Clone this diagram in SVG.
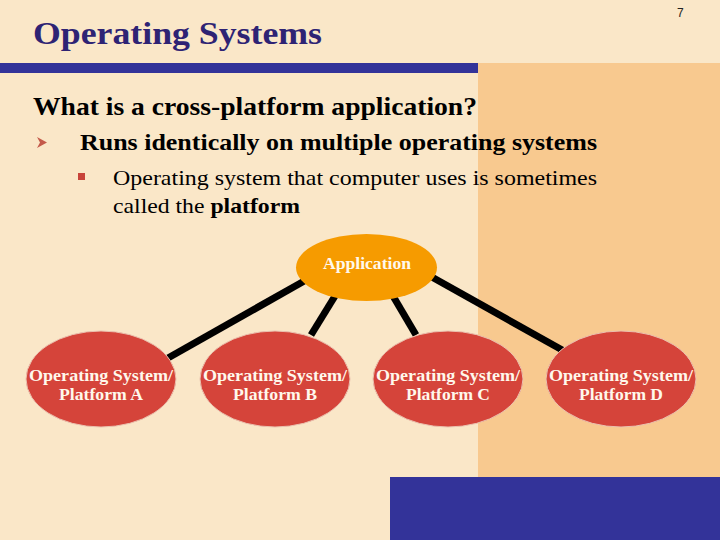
<svg xmlns="http://www.w3.org/2000/svg" width="720" height="540" viewBox="0 0 720 540">
<style>
.serif{font-family:"Liberation Serif","Times New Roman",serif}
.os ellipse{fill:#D5443A;stroke:#EBC2B0;stroke-width:1}
.lbl{font-family:"Liberation Serif","Times New Roman",serif;font-weight:bold;font-size:17px;fill:#FFF8EC;text-anchor:middle}
.conn line{stroke:#000;stroke-width:7;stroke-linecap:butt}
</style>
<rect x="0" y="0" width="720" height="540" fill="#FAE7C8"/>
<rect x="478" y="63" width="242" height="414" fill="#F8C98F"/>
<rect x="0" y="63" width="478" height="10" fill="#333399"/>
<rect x="390" y="477" width="330" height="63" fill="#333399"/>
<text x="33" y="44" class="serif" font-size="32" font-weight="bold" fill="#2E2374" textLength="289" lengthAdjust="spacingAndGlyphs">Operating Systems</text>
<text x="677" y="17" font-family="Liberation Sans, Arial, sans-serif" font-size="12" fill="#222">7</text>
<text x="33" y="115" class="serif" font-size="26" font-weight="bold" fill="#000" textLength="444" lengthAdjust="spacingAndGlyphs">What is a cross-platform application?</text>
<polygon points="37,137 47,142.5 37,148 40,142.5" fill="#C45A4A"/>
<text x="80" y="150" class="serif" font-size="23" font-weight="bold" fill="#000" textLength="517" lengthAdjust="spacingAndGlyphs">Runs identically on multiple operating systems</text>
<rect x="78" y="173" width="7" height="7" fill="#C8443A"/>
<text x="113" y="185" class="serif" font-size="22" fill="#000" textLength="484" lengthAdjust="spacingAndGlyphs">Operating system that computer uses is sometimes</text>
<text x="113" y="213" class="serif" font-size="22" fill="#000" textLength="187" lengthAdjust="spacingAndGlyphs">called the <tspan font-weight="bold">platform</tspan></text>
<g class="conn" id="connectors">
<line x1="306" y1="280" x2="168" y2="358"/>
<line x1="335" y1="296" x2="311" y2="335"/>
<line x1="393" y1="296" x2="416" y2="335"/>
<line x1="430" y1="276" x2="564" y2="351"/>
</g>
<g id="application">
<ellipse cx="366.5" cy="267.5" rx="70.5" ry="33.5" fill="#F69B00"/>
<text x="367" y="269" class="lbl" textLength="88" lengthAdjust="spacingAndGlyphs">Application</text>
</g>
<g id="platformA" class="os">
<ellipse cx="101" cy="379" rx="75" ry="48"/>
<text x="101" y="381" class="lbl" textLength="144" lengthAdjust="spacingAndGlyphs">Operating System/</text>
<text x="101" y="400" class="lbl" textLength="84" lengthAdjust="spacingAndGlyphs">Platform A</text>
</g>
<g id="platformB" class="os">
<ellipse cx="275" cy="379" rx="75" ry="48"/>
<text x="275" y="381" class="lbl" textLength="144" lengthAdjust="spacingAndGlyphs">Operating System/</text>
<text x="275" y="400" class="lbl" textLength="84" lengthAdjust="spacingAndGlyphs">Platform B</text>
</g>
<g id="platformC" class="os">
<ellipse cx="448" cy="379" rx="75" ry="48"/>
<text x="448" y="381" class="lbl" textLength="144" lengthAdjust="spacingAndGlyphs">Operating System/</text>
<text x="448" y="400" class="lbl" textLength="84" lengthAdjust="spacingAndGlyphs">Platform C</text>
</g>
<g id="platformD" class="os">
<ellipse cx="621" cy="379" rx="75" ry="48"/>
<text x="621" y="381" class="lbl" textLength="144" lengthAdjust="spacingAndGlyphs">Operating System/</text>
<text x="621" y="400" class="lbl" textLength="84" lengthAdjust="spacingAndGlyphs">Platform D</text>
</g>
</svg>
